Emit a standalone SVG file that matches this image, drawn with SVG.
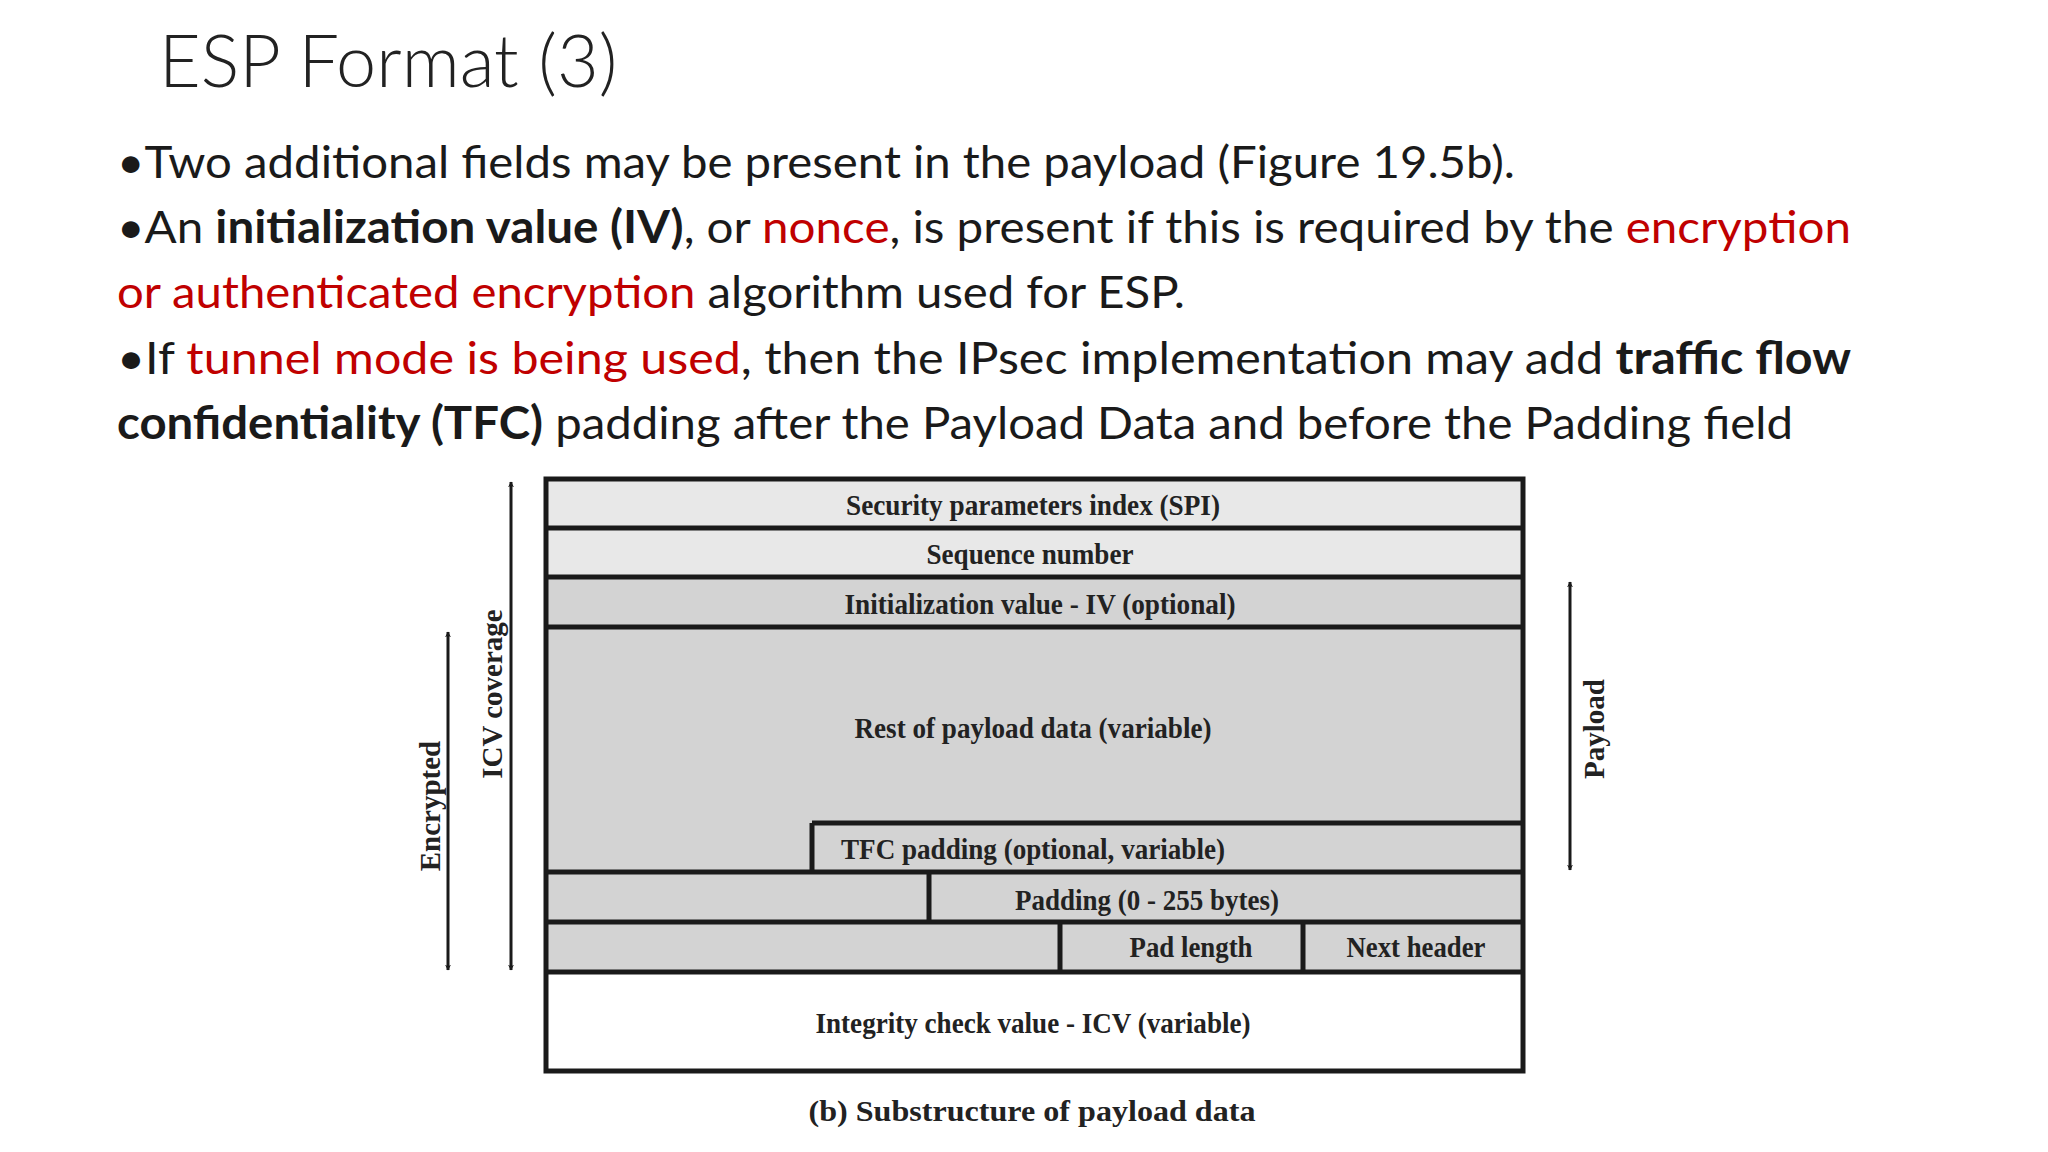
<svg xmlns="http://www.w3.org/2000/svg" width="2048" height="1152" viewBox="0 0 2048 1152">
<defs>
<style>
.b{font-family:Lato,"Open Sans",sans-serif;font-size:45px;fill:#1a1a1a}
.r{fill:#c00000}
.k{font-weight:bold}
.d{font-family:"Liberation Serif",serif;font-weight:bold;font-size:29px;fill:#222;text-anchor:middle}
.ln{stroke:#1a1a1a;stroke-width:5;fill:none}
.ar{stroke:#1a1a1a;stroke-width:3;fill:none;marker-start:url(#ah);marker-end:url(#ah)}
</style>
<marker id="ah" viewBox="0 0 10 10" refX="9" refY="5" markerWidth="6" markerHeight="6" orient="auto-start-reverse" markerUnits="userSpaceOnUse"><path d="M0,0 L10,5 L0,10 L3,5 Z" fill="#1a1a1a"/></marker>
</defs>
<rect width="2048" height="1152" fill="#fff"/>
<text x="159" y="87" font-family="Lato,'Open Sans',sans-serif" font-size="72" font-weight="300" fill="#222">ESP Format (3)</text>
<text class="b" x="117" y="178" textLength="1398" lengthAdjust="spacingAndGlyphs">•Two additional fields may be present in the payload (Figure 19.5b).</text>
<text class="b" x="117" y="243" textLength="1734" lengthAdjust="spacingAndGlyphs">•An <tspan class="k">initialization value (IV)</tspan>, or <tspan class="r">nonce</tspan>, is present if this is required by the <tspan class="r">encryption</tspan></text>
<text class="b" x="117" y="308" textLength="1068" lengthAdjust="spacingAndGlyphs"><tspan class="r">or authenticated encryption</tspan> algorithm used for ESP.</text>
<text class="b" x="117" y="374" textLength="1734" lengthAdjust="spacingAndGlyphs">•If <tspan class="r">tunnel mode is being used</tspan>, then the IPsec implementation may add <tspan class="k">traffic flow</tspan></text>
<text class="b" x="117" y="439" textLength="1676" lengthAdjust="spacingAndGlyphs"><tspan class="k">confidentiality (TFC)</tspan> padding after the Payload Data and before the Padding field</text>

<g id="fields">
<rect x="546" y="479" width="977" height="98" fill="#e8e8e8"/>
<rect x="546" y="577" width="977" height="395" fill="#d3d3d3"/>
<rect x="546" y="972" width="977" height="99" fill="#fff"/>
<rect class="ln" x="546" y="479" width="977" height="592"/>
<path class="ln" d="M546 528H1523M546 577H1523M546 627H1523M812 823H1523M812 823V872M546 872H1523M929 872V922M546 922H1523M1060 922V972M1303 922V972M546 972H1523"/>
</g>
<g id="labels">
<text class="d" x="1033" y="515" textLength="374" lengthAdjust="spacingAndGlyphs">Security parameters index (SPI)</text>
<text class="d" x="1030" y="564" textLength="207" lengthAdjust="spacingAndGlyphs">Sequence number</text>
<text class="d" x="1040" y="614" textLength="391" lengthAdjust="spacingAndGlyphs">Initialization value - IV (optional)</text>
<text class="d" x="1033" y="738" textLength="357" lengthAdjust="spacingAndGlyphs">Rest of payload data (variable)</text>
<text class="d" x="1033" y="859" textLength="384" lengthAdjust="spacingAndGlyphs">TFC padding (optional, variable)</text>
<text class="d" x="1147" y="910" textLength="264" lengthAdjust="spacingAndGlyphs">Padding (0 - 255 bytes)</text>
<text class="d" x="1191" y="957" textLength="123" lengthAdjust="spacingAndGlyphs">Pad length</text>
<text class="d" x="1416" y="957" textLength="139" lengthAdjust="spacingAndGlyphs">Next header</text>
<text class="d" x="1033" y="1033" textLength="435" lengthAdjust="spacingAndGlyphs">Integrity check value - ICV (variable)</text>
<text class="d" x="1032" y="1121" font-size="35" textLength="447" lengthAdjust="spacingAndGlyphs">(b)  Substructure of payload data</text>
</g>
<g id="connectors">
<path class="ar" d="M511 482V970"/>
<path class="ar" d="M448 632V970"/>
<path class="ar" d="M1570 582V870"/>
</g>
<g id="side-labels">
<text class="d" transform="translate(440,806) rotate(-90)" font-size="28">Encrypted</text>
<text class="d" transform="translate(502,694) rotate(-90)" font-size="28">ICV coverage</text>
<text class="d" transform="translate(1604,729) rotate(-90)" font-size="28">Payload</text>
</g>
</svg>
